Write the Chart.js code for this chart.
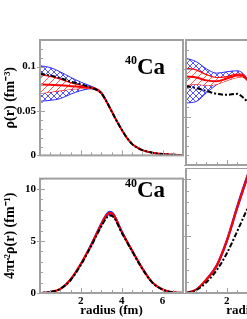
<!DOCTYPE html>
<html><head><meta charset="utf-8">
<script src="https://cdn.jsdelivr.net/npm/chart.js@4.4.1/dist/chart.umd.min.js"></script>
<style>
html,body{margin:0;padding:0;width:247px;height:319px;overflow:hidden;background:#fff}
body{position:relative}
canvas{position:absolute;display:block}
.lab{position:absolute;font-family:'Liberation Serif',serif;font-weight:bold;color:#000;white-space:nowrap;line-height:1}
.lab .s{font-size:12px;vertical-align:top;position:relative;top:-1px}
.lab .b{font-size:23px}
</style></head><body>
<canvas id="tl" width="185" height="166" style="left:0;top:0"></canvas>
<canvas id="tr" width="147" height="166" style="left:184px;top:0"></canvas>
<canvas id="bl" width="185" height="151" style="left:0;top:168px"></canvas>
<canvas id="br" width="147" height="151" style="left:184px;top:168px"></canvas>
<div class="lab" style="left:125px;top:55px"><span class="s">40</span><span class="b">Ca</span></div>
<div class="lab" style="left:125px;top:178px"><span class="s">40</span><span class="b">Ca</span></div>
<script>
// ---- data: top-left (40Ca density) ----
const rTL = [0,0.5,1,1.5,2,2.5,2.75,3,3.25,3.5,3.75,4,4.25,4.5,4.75,5,5.5,6,6.5,7];
const tlBlack   = [0.092,0.090,0.087,0.083,0.080,0.0765,0.074,0.070,0.061,0.050,0.039,0.029,0.020,0.013,0.009,0.006,0.003,0.0015,0.0008,0.0004];
const tlRedMid  = [0.080,0.0795,0.079,0.078,0.077,0.076,0.0745,0.0705,0.061,0.050,0.039,0.029,0.020,0.013,0.009,0.006,0.003,0.0015,0.0008,0.0004];
const tlRedUp   = [0.091,0.089,0.086,0.082,0.079,0.0765,0.075,0.071,0.0615,0.050,0.039,0.029,0.020,0.013,0.009,0.006,0.003,0.0015,0.0008,0.0004];
const tlRedLow  = [0.070,0.0715,0.073,0.0745,0.0755,0.0755,0.074,0.070,0.0605,0.050,0.039,0.029,0.020,0.013,0.009,0.006,0.003,0.0015,0.0008,0.0004];
const tlBlueUp  = [0.101,0.099,0.094,0.088,0.0825,0.078,0.0755,0.0715,0.0615,0.050,0.039,0.029,0.020,0.013,0.009,0.006,0.003,0.0015,0.0008,0.0004];
const tlBlueLow = [0.061,0.062,0.064,0.069,0.073,0.075,0.0735,0.0695,0.0605,0.050,0.039,0.029,0.020,0.013,0.009,0.006,0.003,0.0015,0.0008,0.0004];
// ---- data: top-right (cropped panel) ----
const rTR = [0,0.5,1,1.5,2,2.5,2.75,3,3.25];
const trBlack   = [0.082,0.080,0.077,0.074,0.073,0.074,0.071,0.066,0.060];
const trRedMid  = [0.092,0.091,0.088,0.087,0.090,0.093,0.093,0.0885,0.082];
const trRedUp   = [0.1005,0.099,0.094,0.091,0.092,0.0945,0.0945,0.089,0.0825];
const trRedLow  = [0.083,0.084,0.083,0.084,0.088,0.091,0.092,0.088,0.0815];
const trBlueUp  = [0.111,0.1075,0.100,0.0955,0.097,0.098,0.096,0.090,0.083];
const trBlueLow = [0.0645,0.066,0.075,0.0835,0.090,0.0925,0.093,0.089,0.082];
// ---- data: bottom-left (4 pi r^2 rho) ----
const rBL = [0,0.5,1,1.5,2,2.5,3,3.25,3.4,3.6,4,4.5,5,5.5,6,6.5,7];
const blRed     = [0,0.1,0.4,1.3,2.8,4.6,6.6,7.45,7.7,7.5,5.9,4.1,2.4,1.0,0.33,0.07,0.01];
const blBlack   = [0,0.1,0.4,1.25,2.7,4.5,6.4,7.2,7.45,7.3,5.8,4.05,2.35,1.0,0.33,0.07,0.01];
const blBlueUp  = [0,0.1,0.42,1.35,2.85,4.7,6.75,7.6,7.85,7.65,6.0,4.15,2.45,1.02,0.34,0.07,0.01];
const blBlueLow = [0,0.1,0.38,1.25,2.75,4.5,6.45,7.3,7.55,7.35,5.8,4.05,2.35,0.98,0.32,0.07,0.01];
// ---- data: bottom-right (cropped panel) ----
const rBR = [0,0.5,1,1.5,2,2.5,3,3.25];
const brRed     = [0,0.3,1.2,2.4,4.6,7.5,10.2,11.4];
const brBlueUp  = [0,0.32,1.25,2.5,4.75,7.7,10.4,11.6];
const brBlueLow = [0,0.28,1.15,2.3,4.45,7.3,10.0,11.2];
const brBlack   = [0,0.25,0.95,2.0,3.5,5.4,7.4,8.3];
// ---- ticks ----
const xTickVals = [2,4,6];
const topYTicks = [0,0.05,0.1];
const topYLabels = ['0','0.05','0.1'];
const botYTicks = [0,5,10];
const botYLabels = ['0','5','10'];

const pts = (xs, ys) => xs.map((x,i)=>({x, y: ys[i]}));

function hatch(color, both, bg, size){
  const c = document.createElement('canvas'); c.width = c.height = size;
  const g = c.getContext('2d');
  if (bg){ g.fillStyle = bg; g.fillRect(0,0,size,size); }
  g.strokeStyle = color; g.lineWidth = 0.8;
  g.beginPath();
  g.moveTo(-1,size+1); g.lineTo(size+1,-1);
  if (both){ g.moveTo(-1,-1); g.lineTo(size+1,size+1); }
  g.stroke();
  return g.createPattern(c,'repeat');
}
const bluePat = hatch('#2a2aff', true, null, 6);
const redPat  = hatch('#ff3030', false, '#ffffff', 7);

const BLUE='#2a2aff', RED='#ff0000', FRAME='#a0a0a0';
const tickFont = {family:"'Liberation Serif', serif", weight:'bold', size:11};
const titleFont = {family:"'Liberation Serif', serif", weight:'bold', size:13};

const framePlugin = {
  id:'frame',
  afterDatasetsDraw(chart, args, o){
    const {ctx, chartArea:a, scales:{x,y}} = chart;
    ctx.save();
    ctx.strokeStyle = FRAME; ctx.lineWidth = 1;
    ctx.beginPath();
    for (let v=0; v<=7+1e-9; v+=0.5){
      const px = Math.round(x.getPixelForValue(v))+0.5;
      const maj = Math.abs(v/2 - Math.round(v/2))<1e-6;
      ctx.moveTo(px, a.bottom); ctx.lineTo(px, a.bottom-(maj?5:3));
    }
    for (let v=0; v<=o.yMax+1e-9; v+=o.yMinor){
      const py = Math.round(y.getPixelForValue(v))+0.5;
      const k = v/o.yMajor; const maj = Math.abs(k-Math.round(k))<1e-6;
      ctx.moveTo(a.left-(maj?3:0), py); ctx.lineTo(a.left+(maj?5:3), py);
    }
    ctx.stroke();
    ctx.lineWidth = 2;
    ctx.strokeRect(a.left, a.top, a.right-a.left, a.bottom-a.top);
    ctx.restore();
  }
};

function lineDS(data, color, width, extra){
  return Object.assign({data, borderColor:color, borderWidth:width, pointRadius:0, fill:false,
    cubicInterpolationMode:'monotone', tension:0.4}, extra||{});
}
const dashDot = [5,2,2,2];

function makeChart(id, datasets, opt){
  const yScale = {
    type:'linear', min:0, max:opt.yMax,
    afterBuildTicks: s => { s.ticks = opt.yTicks.map(v=>({value:v})); },
    afterFit: s => { s.width = opt.yWidth; },
    grid:{display:false, drawTicks:false}, border:{display:false},
    ticks:{display:opt.yLabels!=null, font:tickFont, color:'#000', padding:4,
      callback:(v,i)=> opt.yLabels ? opt.yLabels[i] : ''},
    title:{display:!!opt.yTitle, text:opt.yTitle||'', font:{...titleFont, size:14}, color:'#000', padding:{top:2,bottom:0}}
  };
  const xScale = {
    type:'linear', min:0, max:7,
    afterBuildTicks: s => { s.ticks = xTickVals.map(v=>({value:v})); },
    afterFit: s => { s.height = opt.xHeight; },
    grid:{display:false, drawTicks:false}, border:{display:false},
    ticks:{display:!!opt.xLabels, font:tickFont, color:'#000', padding:2},
    title:{display:!!opt.xTitle, text:opt.xTitle||'', font:titleFont, color:'#000', padding:{top:0,bottom:1}}
  };
  return new Chart(document.getElementById(id), {
    type:'line',
    data:{datasets},
    options:{
      responsive:false, animation:false, devicePixelRatio:1,
      layout:{padding:{left:0, right:2, top:opt.padTop, bottom:0}},
      plugins:{legend:{display:false}, tooltip:{enabled:false}, title:{display:false},
        frame:{yMax:opt.yMax, yMinor:opt.yMinor, yMajor:opt.yMajor}},
      scales:{x:xScale, y:yScale}
    },
    plugins:[framePlugin]
  });
}

function densitySets(r, black, mid, up, low, bup, blow){
  return [
    lineDS(pts(r,black),'#000',2,{borderDash:dashDot}),
    lineDS(pts(r,mid),RED,2),
    lineDS(pts(r,up),RED,1.2,{fill:'+1', backgroundColor:redPat}),
    lineDS(pts(r,low),RED,1.2),
    lineDS(pts(r,bup),BLUE,1,{fill:'+1', backgroundColor:bluePat}),
    lineDS(pts(r,blow),BLUE,1)
  ];
}
function radialSets(r, black, red, bup, blow){
  return [
    lineDS(pts(r,black),'#000',2,{borderDash:dashDot}),
    lineDS(pts(r,red),RED,2.2),
    lineDS(pts(r,bup),BLUE,1.2,{fill:'+1', backgroundColor:BLUE}),
    lineDS(pts(r,blow),BLUE,1.2)
  ];
}

makeChart('tl', densitySets(rTL, tlBlack, tlRedMid, tlRedUp, tlRedLow, tlBlueUp, tlBlueLow),
  {yMax:0.13, yTicks:topYTicks, yLabels:topYLabels, yWidth:40, yTitle:'ρ(r) (fm⁻³)', yMinor:0.01, yMajor:0.05,
   xHeight:1, padTop:40});
makeChart('tr', densitySets(rTR, trBlack, trRedMid, trRedUp, trRedLow, trBlueUp, trBlueLow),
  {yMax:0.13, yTicks:topYTicks, yLabels:null, yWidth:2, yMinor:0.01, yMajor:0.05,
   xHeight:1, padTop:40});
makeChart('bl', radialSets(rBL, blBlack, blRed, blBlueUp, blBlueLow),
  {yMax:11, yTicks:botYTicks, yLabels:botYLabels, yWidth:40, yTitle:'4πr²ρ(r) (fm⁻¹)', yMinor:1, yMajor:5,
   xHeight:26, xLabels:true, xTitle:'radius (fm)', padTop:0});
makeChart('br', radialSets(rBR, brBlack, brRed, brBlueUp, brBlueLow),
  {yMax:11, yTicks:botYTicks, yLabels:null, yWidth:2, yMinor:1, yMajor:5,
   xHeight:26, xLabels:true, xTitle:'radius (fm)', padTop:0});
</script>
</body></html>
